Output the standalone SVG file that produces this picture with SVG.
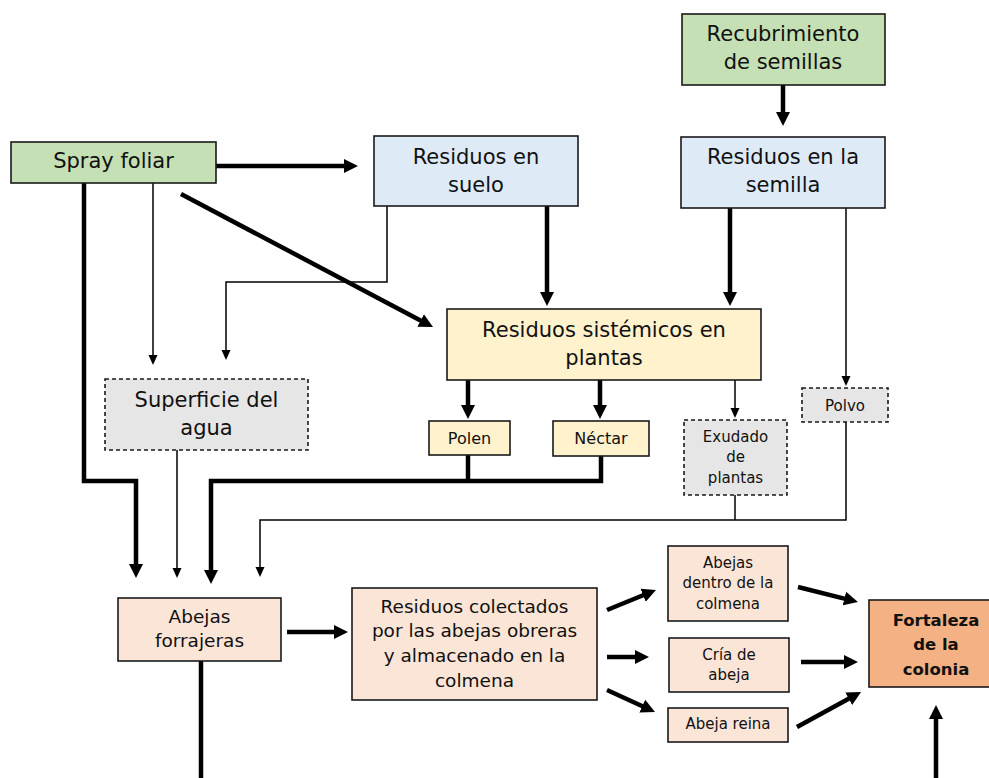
<svg xmlns="http://www.w3.org/2000/svg" width="989" height="778" viewBox="0 0 989 778">
  <style>
    .box { stroke: #1a1a1a; stroke-width: 1.6; }
    .dash { stroke-dasharray: 4 3; }
    .green { fill: #c5e0b4; }
    .blue { fill: #deebf7; }
    .yellow { fill: #fff2cc; }
    .gray { fill: #e7e6e6; }
    .peach { fill: #fbe5d6; }
    .orange { fill: #f4b183; }
    text { font-family: "DejaVu Sans", "Liberation Sans", sans-serif; fill: #111; text-anchor: middle; }
    .t21 { font-size: 21px; }
    .t19 { font-size: 18.5px; }
    .t16 { font-size: 16px; }
    .t15 { font-size: 15px; }
    .bold { font-size: 16.5px; font-weight: bold; }
    .thick { fill: none; stroke: #000; stroke-width: 4.5; stroke-linejoin: miter; }
    .thin { fill: none; stroke: #000; stroke-width: 1.5; }
    .ah { marker-end: url(#big); }
    .as { marker-end: url(#small); }
  </style>
  <defs>
    <marker id="big" markerUnits="userSpaceOnUse" markerWidth="16" markerHeight="16" refX="2" refY="7" orient="auto" viewBox="0 0 16 14">
      <path d="M0,0 L14,7 L0,14 z" fill="#000"/>
    </marker>
    <marker id="small" markerUnits="userSpaceOnUse" markerWidth="12" markerHeight="10" refX="1" refY="4.5" orient="auto" viewBox="0 0 12 9">
      <path d="M0,0 L10,4.5 L0,9 z" fill="#000"/>
    </marker>
  </defs>

  <g id="connectors">
    <path class="thick ah" d="M783,84 V114"/>
    <path class="thick ah" d="M216,166 H346"/>
    <path class="thick ah" d="M181,194 L422.4,321.4"/>
    <path class="thin as" d="M153,183 V356"/>
    <path class="thick ah" d="M84,183 V481 H136 V566"/>
    <path class="thin as" d="M387,206 V282 H226 V351"/>
    <path class="thick ah" d="M547,206 V294"/>
    <path class="thick ah" d="M730,208 V294"/>
    <path class="thin as" d="M846,208 V377"/>
    <path class="thick ah" d="M468,380 V407"/>
    <path class="thick ah" d="M600,380 V407"/>
    <path class="thin as" d="M735,380 V409"/>
    <path class="thick" d="M468,455 V481"/>
    <path class="thick ah" d="M601,456 V481 H211 V572"/>
    <path class="thin as" d="M177,450 V569"/>
    <path class="thin" d="M735,495 V520"/>
    <path class="thin as" d="M846,422 V520 H260 V568"/>
    <path class="thick ah" d="M287,632 H336"/>
    <path class="thick" d="M201,661 V778"/>
    <path class="thick ah" d="M607,610 L644.9,594.5"/>
    <path class="thick ah" d="M607,657 H637"/>
    <path class="thick ah" d="M607,690 L644.1,707"/>
    <path class="thick ah" d="M798,587 L846.3,599.1"/>
    <path class="thick ah" d="M801,662 H846"/>
    <path class="thick ah" d="M797,727 L850.5,697.8"/>
    <path class="thick ah" d="M936,778 V717"/>
  </g>

  <g id="recubrimiento">
    <rect class="box green" x="682" y="14" width="203" height="71"/>
    <text class="t21" x="783" y="41">Recubrimiento</text>
    <text class="t21" x="783" y="69">de semillas</text>
  </g>
  <g id="spray-foliar">
    <rect class="box green" x="11" y="142" width="205" height="41"/>
    <text class="t21" x="113.5" y="168">Spray foliar</text>
  </g>
  <g id="residuos-suelo">
    <rect class="box blue" x="374" y="136" width="204" height="70"/>
    <text class="t21" x="476" y="164">Residuos en</text>
    <text class="t21" x="476" y="192">suelo</text>
  </g>
  <g id="residuos-semilla">
    <rect class="box blue" x="681" y="137" width="204" height="71"/>
    <text class="t21" x="783" y="164">Residuos en la</text>
    <text class="t21" x="783" y="192">semilla</text>
  </g>
  <g id="residuos-sistemicos">
    <rect class="box yellow" x="447" y="309" width="314" height="71"/>
    <text class="t21" x="604" y="337">Residuos sistémicos en</text>
    <text class="t21" x="604" y="365">plantas</text>
  </g>
  <g id="superficie-agua">
    <rect class="box gray dash" x="105" y="379" width="203" height="71"/>
    <text class="t21" x="206.5" y="407">Superficie del</text>
    <text class="t21" x="206.5" y="435">agua</text>
  </g>
  <g id="polen">
    <rect class="box yellow" x="429" y="421" width="81" height="34"/>
    <text class="t16" x="469.5" y="444">Polen</text>
  </g>
  <g id="nectar">
    <rect class="box yellow" x="553" y="421" width="96" height="35"/>
    <text class="t16" x="601" y="444">Néctar</text>
  </g>
  <g id="exudado">
    <rect class="box gray dash" x="684" y="420" width="103" height="75"/>
    <text class="t15" x="735.5" y="442">Exudado</text>
    <text class="t15" x="735.5" y="462">de</text>
    <text class="t15" x="735.5" y="483">plantas</text>
  </g>
  <g id="polvo">
    <rect class="box gray dash" x="802" y="388" width="86" height="34"/>
    <text class="t15" x="845" y="411">Polvo</text>
  </g>
  <g id="abejas-forrajeras">
    <rect class="box peach" x="118" y="598" width="163" height="63"/>
    <text class="t19" x="199.5" y="623">Abejas</text>
    <text class="t19" x="199.5" y="647">forrajeras</text>
  </g>
  <g id="residuos-colectados">
    <rect class="box peach" x="352" y="588" width="245" height="112"/>
    <text class="t19" x="474.5" y="613">Residuos colectados</text>
    <text class="t19" x="474.5" y="637">por las abejas obreras</text>
    <text class="t19" x="474.5" y="662">y almacenado en la</text>
    <text class="t19" x="474.5" y="687">colmena</text>
  </g>
  <g id="abejas-dentro">
    <rect class="box peach" x="668" y="546" width="120" height="75"/>
    <text class="t15" x="728" y="568">Abejas</text>
    <text class="t15" x="728" y="588">dentro de la</text>
    <text class="t15" x="728" y="609">colmena</text>
  </g>
  <g id="cria-abeja">
    <rect class="box peach" x="669" y="638" width="120" height="54"/>
    <text class="t15" x="729" y="660">Cría de</text>
    <text class="t15" x="729" y="680">abeja</text>
  </g>
  <g id="abeja-reina">
    <rect class="box peach" x="668" y="708" width="120" height="34"/>
    <text class="t15" x="728" y="729">Abeja reina</text>
  </g>
  <g id="fortaleza">
    <rect class="box orange" x="869" y="600" width="134" height="87"/>
    <text class="bold" x="936" y="626">Fortaleza</text>
    <text class="bold" x="936" y="650">de la</text>
    <text class="bold" x="936" y="675">colonia</text>
  </g>
</svg>
